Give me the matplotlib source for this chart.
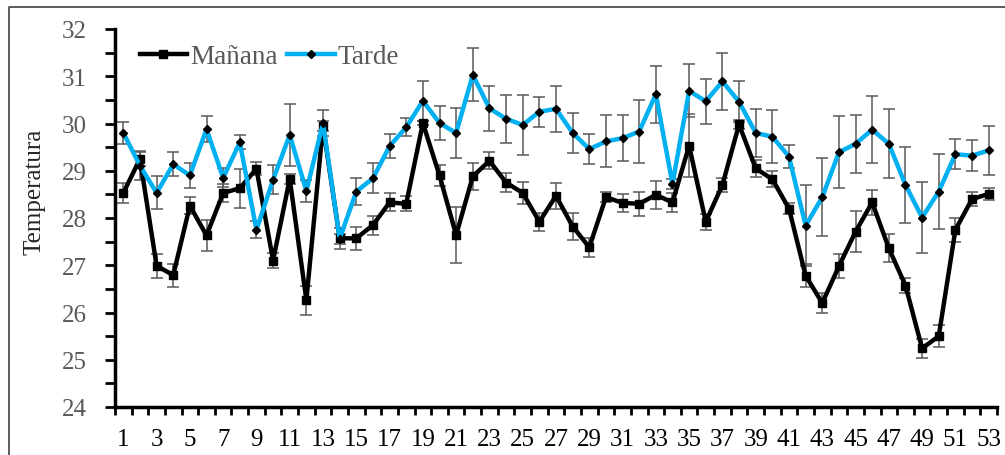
import matplotlib.pyplot as plt
from matplotlib.ticker import MultipleLocator, FixedLocator
from matplotlib.lines import Line2D

plt.rcParams['font.family'] = ['Liberation Serif', 'DejaVu Serif']

# Data
dias = list(range(1, 54))

manana = [28.53, 29.25, 26.99, 26.79, 28.26, 27.63, 28.53, 28.63, 29.04, 27.10,
          28.83, 26.26, 29.95, 27.57, 27.57, 27.85, 28.33, 28.30, 30.01, 28.90,
          27.64, 28.88, 29.21, 28.75, 28.53, 27.92, 28.47, 27.82, 27.38, 28.44,
          28.32, 28.30, 28.49, 28.33, 29.53, 27.92, 28.70, 29.98, 29.05, 28.82,
          28.20, 26.78, 26.20, 26.98, 27.71, 28.33, 27.36, 26.57, 25.24, 25.50,
          27.75, 28.40, 28.51]
manana_err = [0.21, 0.15, 0.25, 0.24, 0.18, 0.32, 0.20, 0.41, 0.14, 0.16,
              0.10, 0.31, 0.10, 0.22, 0.25, 0.20, 0.19, 0.16, 0.05, 0.22,
              0.59, 0.29, 0.18, 0.20, 0.24, 0.19, 0.28, 0.29, 0.20, 0.10,
              0.19, 0.26, 0.29, 0.20, 0.67, 0.17, 0.14, 0.10, 0.18, 0.17,
              0.12, 0.25, 0.22, 0.25, 0.44, 0.26, 0.30, 0.16, 0.20, 0.23,
              0.25, 0.14, 0.12]

tarde = [29.80, 29.11, 28.53, 29.14, 28.90, 29.88, 28.85, 29.60, 27.75, 28.81,
         29.76, 28.57, 30.01, 27.56, 28.56, 28.84, 29.52, 29.92, 30.48, 30.01,
         29.80, 31.03, 30.32, 30.10, 29.97, 30.25, 30.31, 29.80, 29.46, 29.62,
         29.69, 29.83, 30.62, 28.72, 30.69, 30.47, 30.89, 30.46, 29.80, 29.72,
         29.30, 27.84, 28.44, 29.39, 29.57, 29.87, 29.57, 28.70, 28.01, 28.56,
         29.35, 29.32, 29.43]
tarde_err = [0.23, 0.30, 0.35, 0.25, 0.27, 0.27, 0.20, 0.15, 0.18, 0.31,
             0.65, 0.23, 0.28, 0.10, 0.29, 0.32, 0.26, 0.19, 0.43, 0.35,
             0.52, 0.56, 0.48, 0.51, 0.63, 0.32, 0.49, 0.43, 0.31, 0.55,
             0.49, 0.67, 0.60, 0.10, 0.56, 0.47, 0.60, 0.43, 0.51, 0.56,
             0.25, 0.86, 0.82, 0.76, 0.61, 0.71, 0.73, 0.81, 0.75, 0.80,
             0.32, 0.33, 0.52]

azul = '#00B0F0'
gris = '#595959'

fig = plt.figure(figsize=(10.05, 4.56), dpi=100)
ax = fig.add_axes([115 / 1005, 1 - 408 / 456, 882 / 1005, 378 / 456])

# error bars first, lines on top
ax.errorbar(dias, manana, yerr=manana_err, fmt='none', ecolor=gris,
            elinewidth=1.1, capsize=4, capthick=1.1, zorder=2)
ax.errorbar(dias, tarde, yerr=tarde_err, fmt='none', ecolor=gris,
            elinewidth=1.1, capsize=4, capthick=1.1, zorder=2)
ax.plot(dias, manana, color='black', lw=3.2, marker='s', ms=6,
        mfc='black', mec='black', zorder=3)
ax.plot(dias, tarde, color=azul, lw=3.2, marker='D', ms=4,
        mfc='black', mec='black', zorder=4)

ax.set_xlim(0.5, 53.5)
ax.set_ylim(24, 32)

# y axis
ax.yaxis.set_major_locator(MultipleLocator(1))
ax.yaxis.set_minor_locator(MultipleLocator(0.5))
ax.tick_params(axis='y', which='both', direction='out', length=7, width=2,
               color='black', labelsize=18, labelcolor=gris, pad=13)

# x axis: labels on odd days, tick marks between categories
ax.xaxis.set_major_locator(FixedLocator(dias[::2]))
ax.xaxis.set_minor_locator(FixedLocator([d + 0.5 for d in range(0, 54)]))
ax.tick_params(axis='x', which='major', length=0, labelsize=18,
               labelcolor='black', pad=15)
ax.tick_params(axis='x', which='minor', direction='out', length=6, width=2,
               color='black')

for s in ['top', 'right']:
    ax.spines[s].set_visible(False)
for s in ['left', 'bottom']:
    ax.spines[s].set_linewidth(2.5)

fig.text(35 / 1005, 1 - 192 / 456, 'Temperatura', rotation=90, fontsize=18,
         color='#262626', ha='center', va='center')

handles = [Line2D([], [], color='black', lw=3.2, marker='s', ms=6),
           Line2D([], [], color=azul, lw=3.2, marker='D', ms=4, mfc='black', mec='black')]
ax.legend(handles, ['Mañana', 'Tarde'], loc='center left', ncol=2, frameon=False,
          fontsize=19.5, labelcolor=gris, handlelength=1.75, handletextpad=0.12,
          columnspacing=0.35, borderpad=0, borderaxespad=0,
          bbox_to_anchor=(0.028, 0.926))

# chart area border (only top and left visible in the crop)
fig.add_artist(Line2D([9 / 1005, 9 / 1005, 1.2], [-0.1, 1 - 8 / 456, 1 - 8 / 456],
                      transform=fig.transFigure, color='#404040', lw=1.2))

fig.savefig('out.png', dpi=100)
